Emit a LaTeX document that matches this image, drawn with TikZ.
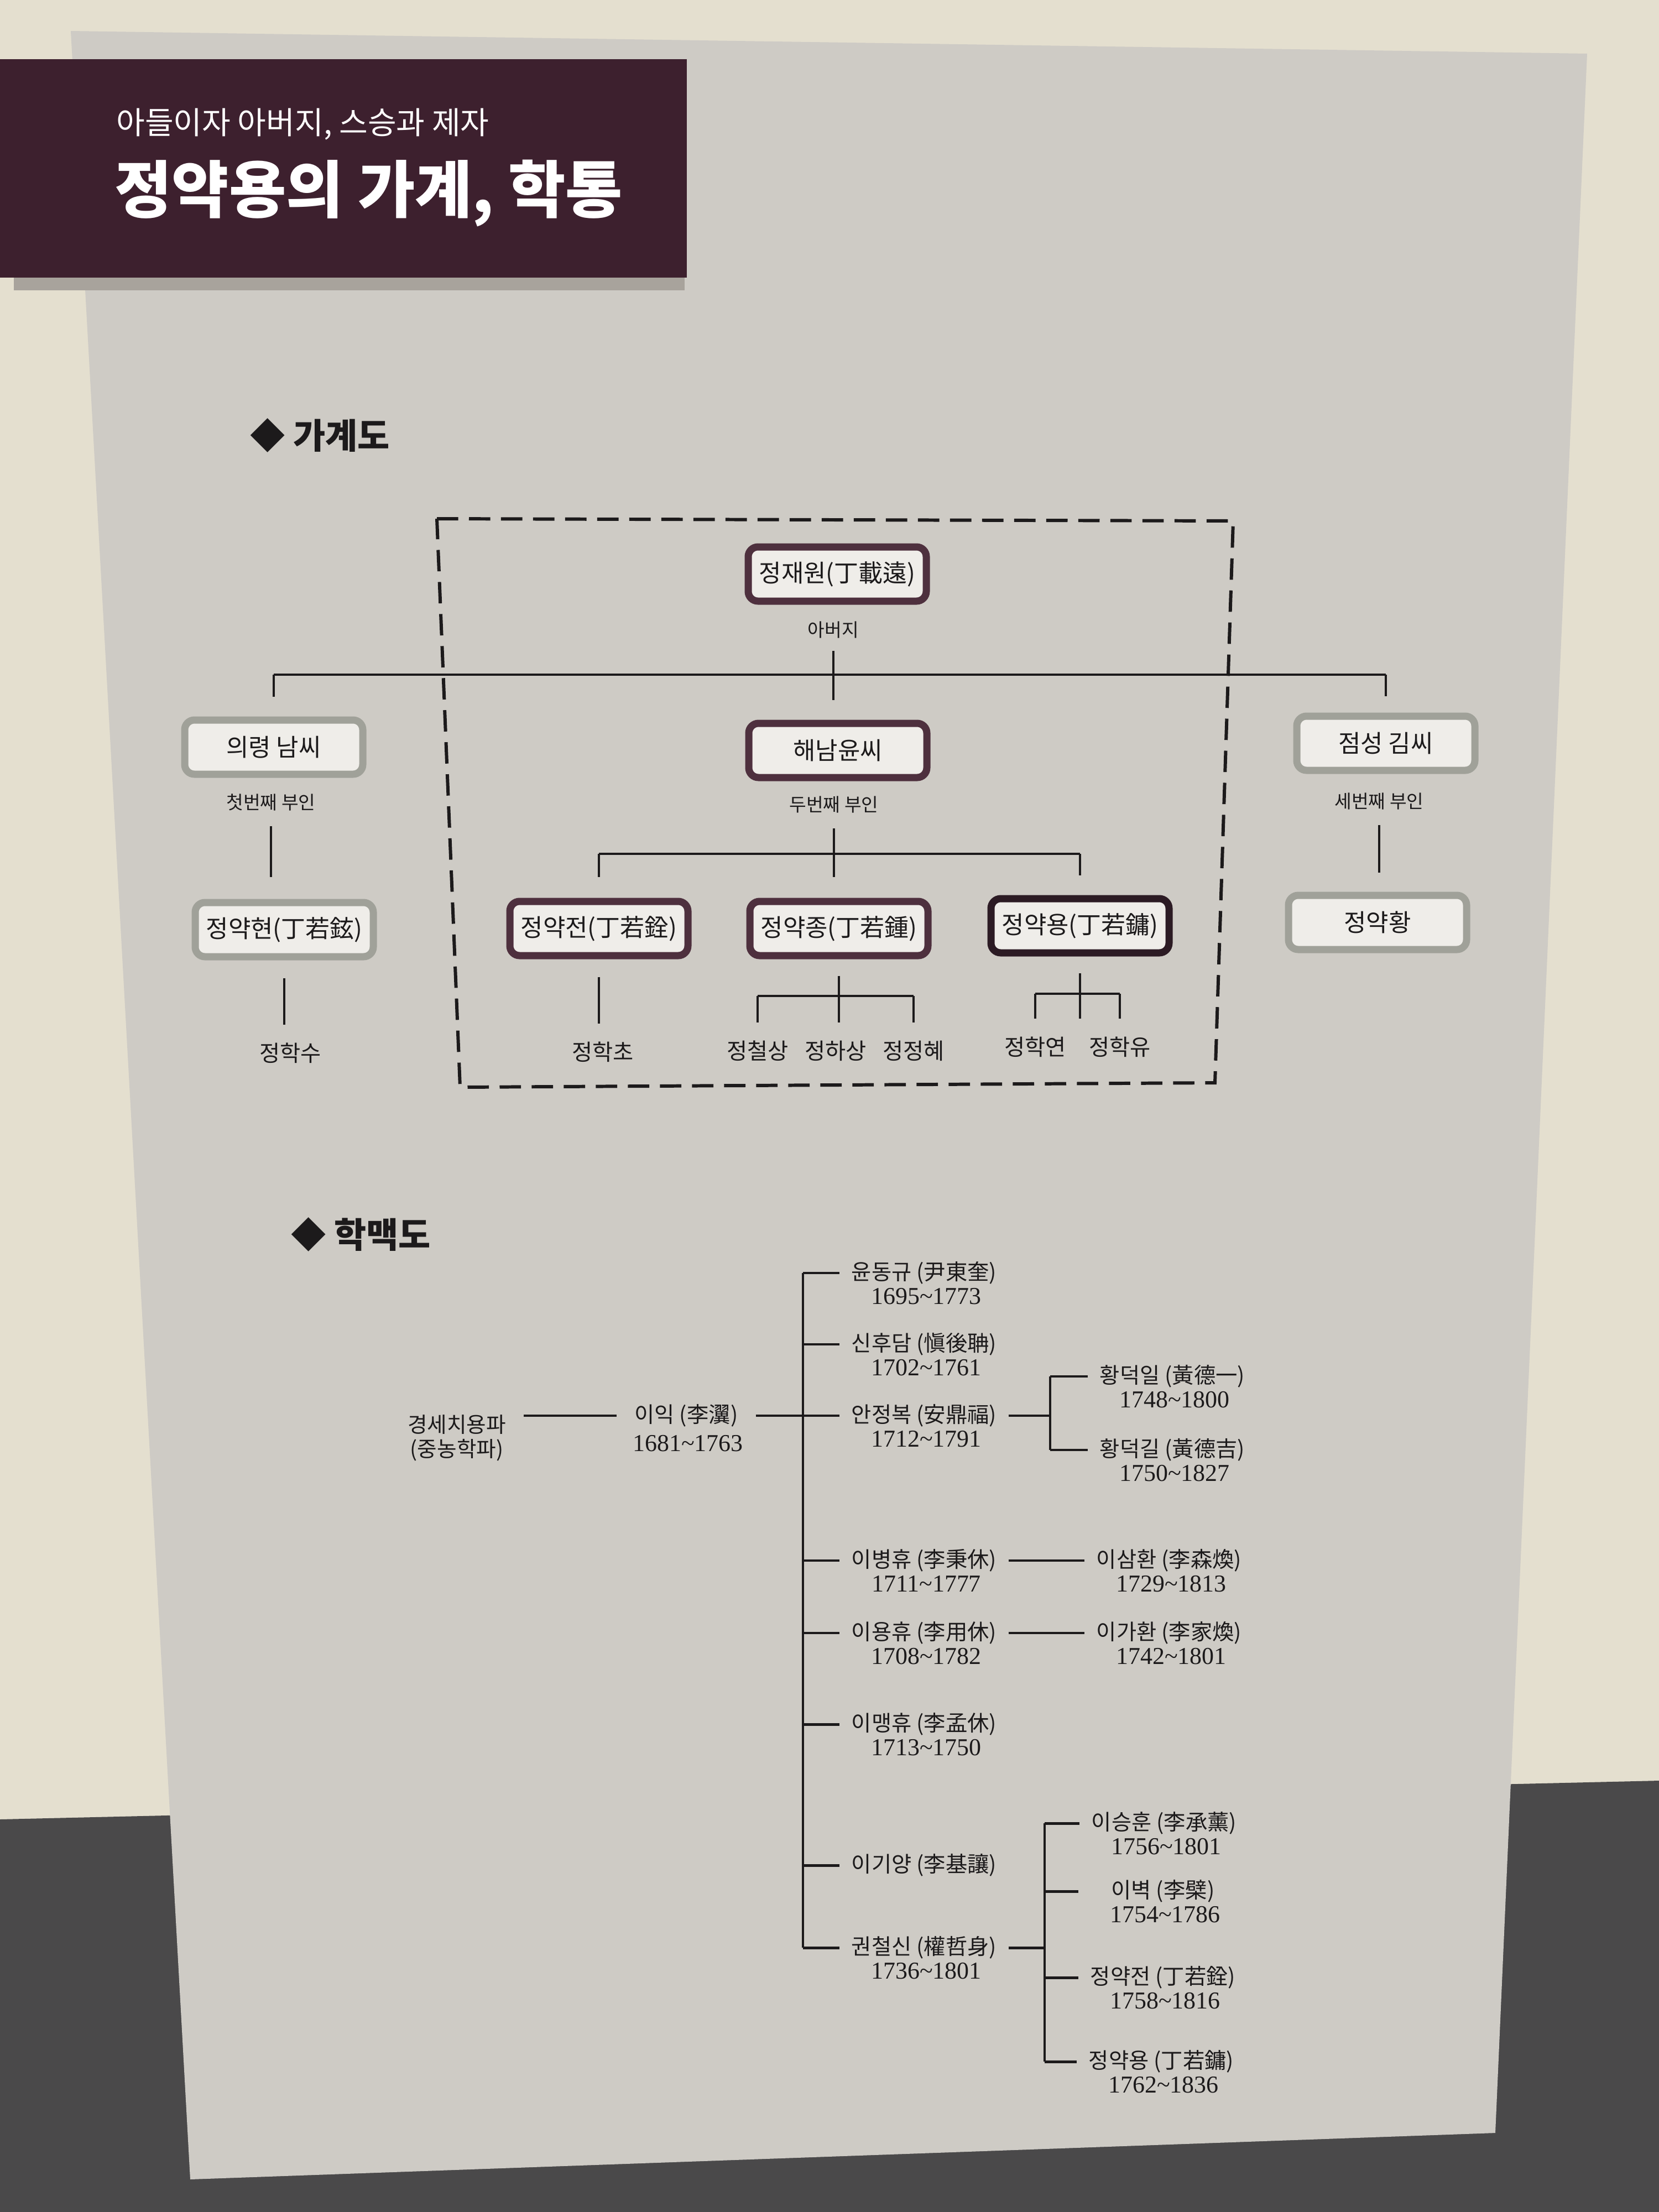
\documentclass[tikz,border=0pt]{standalone}
\usepackage{fontspec}
\setmainfont{Noto Sans CJK KR}
\newfontfamily\yrfont{Liberation Serif}
\usetikzlibrary{calc,shadows}
\definecolor{wall}{RGB}{228,223,207}
\definecolor{floorgray}{RGB}{74,73,74}
\definecolor{panel}{RGB}{206,203,197}
\definecolor{banner}{RGB}{61,32,46}
\definecolor{bevel}{RGB}{168,163,156}
\definecolor{jframe}{RGB}{78,48,62}
\definecolor{yframe}{RGB}{44,27,36}
\definecolor{gframe}{RGB}{160,161,153}
\definecolor{platebg}{RGB}{239,237,233}
\definecolor{ink}{RGB}{28,26,27}
\tikzset{
  plate/.style={draw=#1,line width=3.7pt,fill=platebg,rounded corners=5pt,
                minimum width=3.22cm,minimum height=0.98cm,inner sep=0pt,
                font=\fontsize{12.5}{15}\selectfont,text=ink,
                drop shadow={shadow xshift=0.6pt,shadow yshift=-1.6pt,opacity=0.35}},
  note/.style={font=\fontsize{9.5}{11}\selectfont,text=ink},
  kid/.style={font=\fontsize{11.5}{13}\selectfont,text=ink},
  ln/.style={draw=ink,line width=1pt},
  hk/.style={draw=ink,line width=1.4pt},
  nm/.style={font=\fontsize{11.2}{13}\selectfont,text=ink,minimum width=3.04cm},
  yr/.style={font=\yrfont\fontsize{12.5}{14}\selectfont,text=ink},
  sec/.style={font=\fontsize{18}{20}\selectfont\bfseries,text=ink,anchor=west},
}
\newcommand{\scholar}[4]{%
  \node[nm] (#1) at (#2) {#3};
  \node[yr] (#1y) at ($(#1.center)+(0.04,-0.42)$) {#4};}

\begin{document}
\begin{tikzpicture}
  \useasboundingbox (0,0) rectangle (30,-40);
  % wall, floor and the board
  \fill[wall] (0,0) rectangle (30,-40);
  \fill[floorgray] (0,-32.9) -- (30,-32.2) -- (30,-40) -- (0,-40) -- cycle;
  \fill[panel] (1.28,-0.56) -- (28.70,-0.97) -- (27.04,-38.57) -- (3.44,-39.41) -- cycle;
  \fill[bevel] (0.25,-5.0) rectangle (12.38,-5.25);
  \fill[banner] (0,-1.07) rectangle (12.42,-5.02);
  \node[font=\fontsize{16}{18}\selectfont,text=white,anchor=west] (sub) at (1.98,-2.25)
    {아들이자 아버지, 스승과 제자};
  \node[font=\fontsize{32}{36}\selectfont\bfseries,text=white,anchor=west] (ttl) at (1.95,-3.5)
    {정약용의 가계, 학통};

  % 가계도
  \node[sec] (gh) at (4.40,-7.87) {◆ 가계도};
  \coordinate (dtl) at (7.90,-9.38);
  \coordinate (dtr) at (22.30,-9.42);
  \coordinate (dbr) at (21.97,-19.58);
  \coordinate (dbl) at (8.32,-19.66);
  \draw[draw=ink,line width=1.7pt,dash pattern=on 11pt off 5.5pt] (dtl) -- (dtr) -- (dbr) -- (dbl) -- cycle;

  \node[plate=jframe] (jae) at (15.14,-10.38) {정재원(丁載遠)};
  \node[note] (jaen) at (15.07,-11.39) {아버지};
  \node[plate=gframe] (nam) at (4.95,-13.51) {의령 남씨};
  \node[note] (namn) at (4.90,-14.51) {첫번째 부인};
  \node[plate=jframe] (yoon) at (15.15,-13.57) {해남윤씨};
  \node[note] (yoonn) at (15.08,-14.55) {두번째 부인};
  \node[plate=gframe] (kim) at (25.06,-13.44) {점성 김씨};
  \node[note] (kimn) at (24.94,-14.49) {세번째 부인};
  \node[plate=gframe] (hyeon) at (5.14,-16.81) {정약현(丁若鉉)};
  \node[plate=jframe] (jeon) at (10.83,-16.79) {정약전(丁若銓)};
  \node[plate=jframe] (jong) at (15.17,-16.79) {정약종(丁若鍾)};
  \node[plate=yframe] (yong) at (19.53,-16.74) {정약용(丁若鏞)};
  \node[plate=gframe] (hwang) at (24.91,-16.68) {정약황};
  \node[kid] (hsu) at (5.25,-19.04) {정학수};
  \node[kid] (hcho) at (10.90,-19.02) {정학초};
  \node[kid] (jcs) at (13.70,-19.00) {정철상};
  \node[kid] (jhs) at (15.11,-19.00) {정하상};
  \node[kid] (jjh) at (16.52,-19.00) {정정혜};
  \node[kid] (hyn) at (18.72,-18.93) {정학연};
  \node[kid] (hyu) at (20.25,-18.93) {정학유};

  \coordinate (bar1) at (15.1,-12.2);
  \draw[ln] (nam.north |- bar1) -- (kim.north |- bar1);
  \draw[ln,shorten >=0.36cm] (nam.north |- bar1) -- (nam.north);
  \draw[ln,shorten >=0.3cm] (kim.north |- bar1) -- (kim.north);
  \draw[ln,shorten <=0.1cm,shorten >=0.36cm] (jaen.south) -- (jaen.south |- yoon.north);
  \draw[ln,shorten <=0.15cm,shorten >=0.4cm] (namn.south) -- (namn.south |- hyeon.north);
  \draw[ln,shorten <=0.15cm,shorten >=0.35cm] (kimn.south) -- (kimn.south |- hwang.north);
  \coordinate (bar2) at (15.1,-15.44);
  \draw[ln] (jeon.north |- bar2) -- (yong.north |- bar2);
  \draw[ln,shorten >=0.38cm] (jeon.north |- bar2) -- (jeon.north);
  \draw[ln,shorten >=0.36cm] (yong.north |- bar2) -- (yong.north);
  \draw[ln,shorten <=0.15cm,shorten >=0.38cm] (yoonn.south) -- (yoonn.south |- jong.north);
  \draw[ln,shorten <=0.32cm,shorten >=0.2cm] (hyeon.south) -- (hyeon.south |- hsu.north);
  \draw[ln,shorten <=0.32cm,shorten >=0.2cm] (jeon.south) -- (jeon.south |- hcho.north);
  \coordinate (bar3) at (15.1,-18.01);
  \draw[ln] (jcs.north |- bar3) -- (jjh.north |- bar3);
  \draw[ln,shorten >=0.2cm] (jcs.north |- bar3) -- (jcs.north);
  \draw[ln,shorten >=0.2cm] (jjh.north |- bar3) -- (jjh.north);
  \draw[ln,shorten <=0.3cm,shorten >=0.2cm] (jong.south) -- (jong.south |- jhs.north);
  \coordinate (bar4) at (19.5,-17.97);
  \draw[ln] (hyn.north |- bar4) -- (hyu.north |- bar4);
  \draw[ln,shorten >=0.2cm] (hyn.north |- bar4) -- (hyn.north);
  \draw[ln,shorten >=0.2cm] (hyu.north |- bar4) -- (hyu.north);
  \draw[ln,shorten <=0.3cm,shorten >=0.2cm] (yong.south) -- (yong.south |- hyn.north);

  % 학맥도
  \node[sec] (hh) at (5.14,-22.32) {◆ 학맥도};
  \node[font=\fontsize{11}{12.5}\selectfont,text=ink,align=center] (gsp) at (8.26,-26.0)
    {경세치용파\\(중농학파)};
  \node[nm,minimum width=0pt] (yiik) at (12.41,-25.60) {이익 (李瀷)};
  \node[yr] (yiiky) at ($(yiik.center)+(0.03,-0.50)$) {1681\textasciitilde 1763};
  \scholar{ydg}{16.71,-23.02}{윤동규 (尹東奎)}{1695\textasciitilde 1773}
  \scholar{shd}{16.71,-24.31}{신후담 (愼後聃)}{1702\textasciitilde 1761}
  \scholar{ajb}{16.71,-25.60}{안정복 (安鼎福)}{1712\textasciitilde 1791}
  \scholar{lbh}{16.71,-28.22}{이병휴 (李秉休)}{1711\textasciitilde 1777}
  \scholar{lyh}{16.71,-29.53}{이용휴 (李用休)}{1708\textasciitilde 1782}
  \scholar{lmh}{16.71,-31.18}{이맹휴 (李孟休)}{1713\textasciitilde 1750}
  \node[nm] (lky) at (16.71,-33.73) {이기양 (李基讓)};
  \scholar{kcs}{16.71,-35.22}{권철신 (權哲身)}{1736\textasciitilde 1801}
  \scholar{hdi}{21.20,-24.89}{황덕일 (黃德一)}{1748\textasciitilde 1800}
  \scholar{hdg}{21.20,-26.22}{황덕길 (黃德吉)}{1750\textasciitilde 1827}
  \scholar{lsh}{21.14,-28.22}{이삼환 (李森煥)}{1729\textasciitilde 1813}
  \scholar{lgh}{21.14,-29.53}{이가환 (李家煥)}{1742\textasciitilde 1801}
  \scholar{lsg}{21.05,-32.97}{이승훈 (李承薰)}{1756\textasciitilde 1801}
  \scholar{lbk}{21.03,-34.20}{이벽 (李檗)}{1754\textasciitilde 1786}
  \scholar{jyj}{21.03,-35.76}{정약전 (丁若銓)}{1758\textasciitilde 1816}
  \scholar{jyy}{21.00,-37.28}{정약용 (丁若鏞)}{1762\textasciitilde 1836}

  \coordinate (trunk) at (14.52,-23.02);
  \draw[hk,shorten <=0.2cm,shorten >=0.2cm] (gsp.east |- yiik.west) -- (yiik.west);
  \draw[hk,shorten <=0.2cm] (yiik.east) -- (ajb.west);
  \draw[hk] (trunk |- ydg.west) -- (trunk |- kcs.west);
  \foreach \n in {ydg,shd,lbh,lyh,lmh,lky,kcs}
    \draw[hk] (trunk |- \n.west) -- (\n.west);
  \coordinate (hbr) at (18.99,-25.6);
  \draw[hk] (ajb.east) -- (hbr |- ajb.east);
  \draw[hk] (hbr |- hdi.west) -- (hbr |- hdg.west);
  \foreach \n in {hdi,hdg}
    \draw[hk] (hbr |- \n.west) -- (\n.west);
  \draw[hk] (lbh.east) -- (lsh.west);
  \draw[hk] (lyh.east) -- (lgh.west);
  \coordinate (kbr) at (18.89,-35.2);
  \draw[hk] (kcs.east) -- (kbr |- kcs.east);
  \draw[hk] (kbr |- lsg.west) -- (kbr |- jyy.west);
  \foreach \n in {lsg,lbk,jyj,jyy}
    \draw[hk] (kbr |- \n.west) -- (\n.west);
\end{tikzpicture}
\end{document}
